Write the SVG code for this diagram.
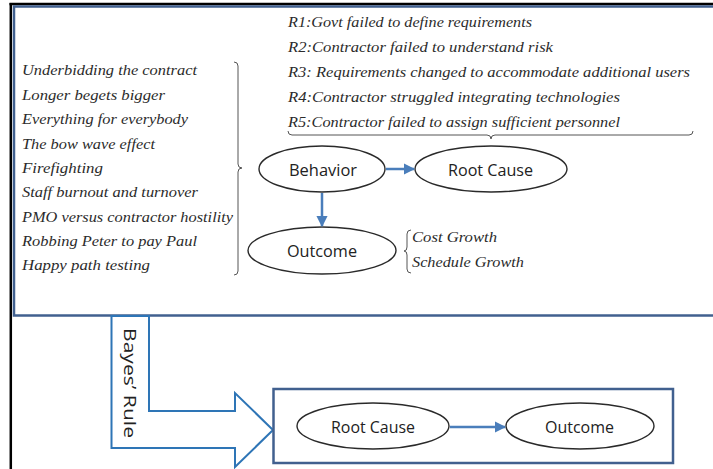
<svg xmlns="http://www.w3.org/2000/svg" width="713" height="469" viewBox="0 0 713 469">
<style>
.it{font-family:"Liberation Serif","Times New Roman",serif;font-style:italic;font-size:15.5px;fill:#2b2b2b}
.lbl{font-family:"Open Sans","Noto Sans",sans-serif;font-size:16px;fill:#222}
.ell{fill:#fff;stroke:#2a2a2a;stroke-width:1.4}
.box{fill:#fff;stroke:#41608f;stroke-width:2.5}
.brace{fill:none;stroke:#555;stroke-width:1}
.conn{stroke:#4a7ebb;stroke-width:2.5;fill:none}
</style>
<defs>
<marker id="ah" viewBox="0 0 10 10" refX="9" refY="5" markerWidth="4.5" markerHeight="4.5" orient="auto" markerUnits="strokeWidth">
<path d="M0,0 L10,5 L0,10 z" fill="#4a7ebb"/>
</marker>
</defs>
<rect width="713" height="469" fill="#fff"/>
<g id="frame">
<line x1="9.5" y1="4" x2="713" y2="4" stroke="#000" stroke-width="2.5"/>
<line x1="10.8" y1="3" x2="10.8" y2="469" stroke="#000" stroke-width="2.5"/>
<rect class="box" x="14" y="6.5" width="712" height="309"/>
</g>
<g id="bayes-arrow">
<path d="M111.5,316 L149,316 L149,411 L235,411 L235,393 L273,430 L235,467 L235,448 L111.5,448 Z" fill="#fff" stroke="#2e75b6" stroke-width="2"/>
<text class="lbl" transform="translate(124,328) rotate(90)" font-size="18" textLength="110" lengthAdjust="spacingAndGlyphs">Bayes’ Rule</text>
</g>
<g id="behaviors">
<text class="it" x="22" y="75" textLength="175" lengthAdjust="spacingAndGlyphs">Underbidding the contract</text>
<text class="it" x="22" y="99.5" textLength="143" lengthAdjust="spacingAndGlyphs">Longer begets bigger</text>
<text class="it" x="22" y="124" textLength="166" lengthAdjust="spacingAndGlyphs">Everything for everybody</text>
<text class="it" x="22" y="148.5" textLength="133" lengthAdjust="spacingAndGlyphs">The bow wave effect</text>
<text class="it" x="22" y="173" textLength="81" lengthAdjust="spacingAndGlyphs">Firefighting</text>
<text class="it" x="22" y="197" textLength="176" lengthAdjust="spacingAndGlyphs">Staff burnout and turnover</text>
<text class="it" x="22" y="221.5" textLength="211" lengthAdjust="spacingAndGlyphs">PMO versus contractor hostility</text>
<text class="it" x="22" y="246" textLength="175" lengthAdjust="spacingAndGlyphs">Robbing Peter to pay Paul</text>
<text class="it" x="22" y="270" textLength="128" lengthAdjust="spacingAndGlyphs">Happy path testing</text>
<path class="brace" d="M234,62 Q238,62 238,66 L238,164 Q238,168 242,168 Q238,168 238,172 L238,271 Q238,275 234,275"/>
</g>
<g id="root-causes">
<text class="it" x="288" y="27" textLength="244" lengthAdjust="spacingAndGlyphs">R1:Govt failed to define requirements</text>
<text class="it" x="288" y="52" textLength="265" lengthAdjust="spacingAndGlyphs">R2:Contractor failed to understand risk</text>
<text class="it" x="288" y="77" textLength="402" lengthAdjust="spacingAndGlyphs">R3: Requirements changed to accommodate additional users</text>
<text class="it" x="288" y="102" textLength="332" lengthAdjust="spacingAndGlyphs">R4:Contractor struggled integrating technologies</text>
<text class="it" x="288" y="127" textLength="332" lengthAdjust="spacingAndGlyphs">R5:Contractor failed to assign sufficient personnel</text>
<path class="brace" d="M288,131 Q288,135 292,135 L487,135 Q491,135 491,139 Q491,135 495,135 L689,135 Q693,135 693,131"/>
</g>
<g id="outcomes">
<text class="it" x="412" y="242" textLength="85" lengthAdjust="spacingAndGlyphs">Cost Growth</text>
<text class="it" x="412" y="267" textLength="112" lengthAdjust="spacingAndGlyphs">Schedule Growth</text>
<path class="brace" d="M411,230 Q407,230 407,234 L407,247 Q407,251 404,251 Q407,251 407,255 L407,269 Q407,273 411,273"/>
</g>
<g id="behavior">
<ellipse class="ell" cx="322" cy="169" rx="63" ry="23"/>
<text class="lbl" x="289" y="175.5" textLength="68" lengthAdjust="spacingAndGlyphs">Behavior</text>
</g>
<g id="root-cause-top">
<ellipse class="ell" cx="491" cy="169" rx="76" ry="23"/>
<text class="lbl" x="448" y="175.5" textLength="85" lengthAdjust="spacingAndGlyphs">Root Cause</text>
</g>
<g id="outcome-top">
<ellipse class="ell" cx="322" cy="250.5" rx="74" ry="23.5"/>
<text class="lbl" x="287" y="256.5" textLength="70" lengthAdjust="spacingAndGlyphs">Outcome</text>
</g>
<g id="bottom-box">
<rect class="box" x="273.5" y="389" width="399.5" height="74"/>
</g>
<g id="root-cause-bottom">
<ellipse class="ell" cx="373" cy="426" rx="76" ry="23"/>
<text class="lbl" x="331" y="432.5" textLength="84" lengthAdjust="spacingAndGlyphs">Root Cause</text>
</g>
<g id="outcome-bottom">
<ellipse class="ell" cx="580" cy="426" rx="74" ry="23"/>
<text class="lbl" x="545" y="432.5" textLength="69" lengthAdjust="spacingAndGlyphs">Outcome</text>
</g>
<g id="connectors">
<line class="conn" x1="386" y1="169" x2="414" y2="169" marker-end="url(#ah)"/>
<line class="conn" x1="322" y1="193" x2="322" y2="226" marker-end="url(#ah)"/>
<line class="conn" x1="450" y1="427" x2="505" y2="427" marker-end="url(#ah)"/>
</g>
</svg>
